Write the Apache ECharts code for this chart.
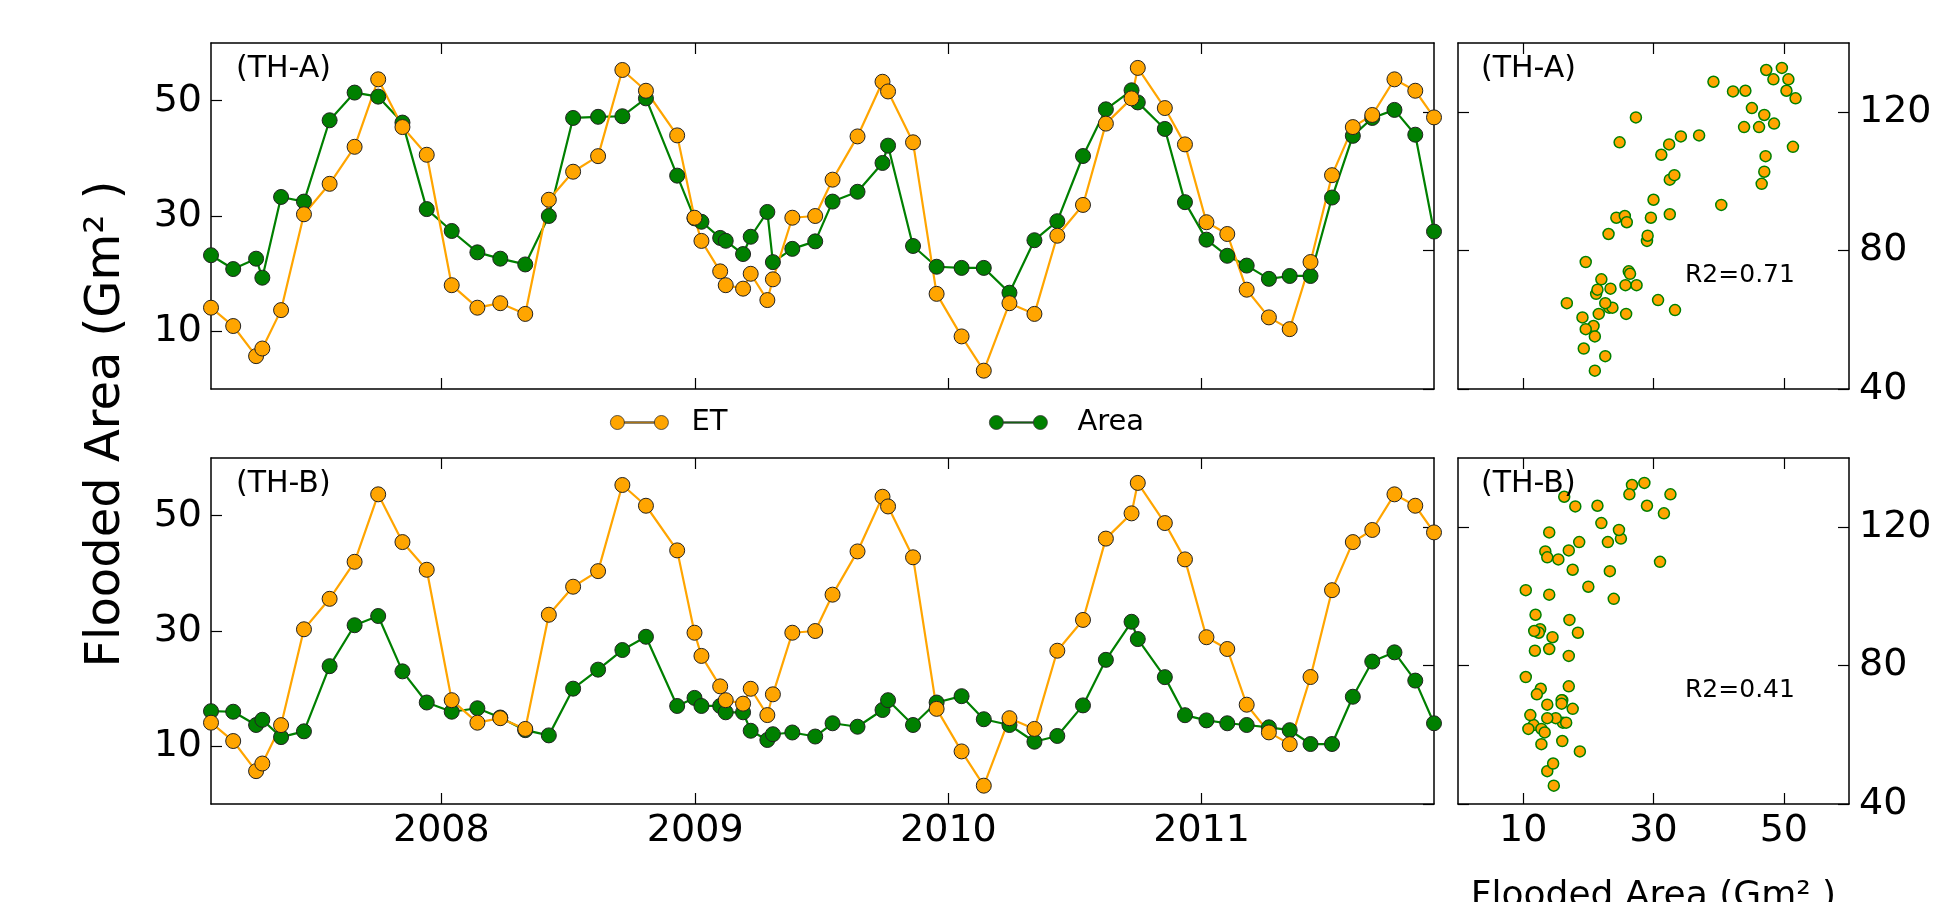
<!DOCTYPE html>
<html>
<head>
<meta charset="utf-8">
<title>Flooded Area vs ET</title>
<script src="https://cdn.jsdelivr.net/npm/echarts@6/dist/echarts.min.js"></script>
<style>
  html, body { margin: 0; padding: 0; background: #fff; }
  #chart { width: 1947px; height: 902px; }
</style>
</head>
<body>
<div id="chart"></div>
<script>
// Observation dates (shared by both sites)
const dates = [
    '2007-02-03', '2007-03-07', '2007-04-09', '2007-04-18', '2007-05-15', '2007-06-17',
    '2007-07-24', '2007-08-29', '2007-10-02', '2007-11-06', '2007-12-11', '2008-01-16',
    '2008-02-22', '2008-03-26', '2008-05-01', '2008-06-04', '2008-07-09', '2008-08-14',
    '2008-09-18', '2008-10-22', '2008-12-06', '2008-12-31', '2009-01-10', '2009-02-06',
    '2009-02-14', '2009-03-11', '2009-03-22', '2009-04-15', '2009-04-23', '2009-05-21',
    '2009-06-23', '2009-07-18', '2009-08-23', '2009-09-28', '2009-10-06', '2009-11-11',
    '2009-12-15', '2010-01-20', '2010-02-21', '2010-03-30', '2010-05-05', '2010-06-07',
    '2010-07-14', '2010-08-16', '2010-09-22', '2010-10-01', '2010-11-09', '2010-12-08',
    '2011-01-08', '2011-02-07', '2011-03-07', '2011-04-08', '2011-05-08', '2011-06-07',
    '2011-07-08', '2011-08-07', '2011-09-04', '2011-10-06', '2011-11-05', '2011-12-02'
];

// ET (twin axis, 40 - 140)
const etValues = [
    63.5, 58.2, 49.5, 51.7, 62.8, 90.5, 99.3, 110.0, 129.5, 115.7, 107.7, 70.0,
    63.5, 64.8, 61.7, 94.7, 102.8, 107.3, 132.2, 126.2, 113.3, 89.5, 82.8, 74.0,
    70.0, 69.0, 73.3, 65.7, 71.7, 89.5, 90.0, 100.5, 113.0, 128.8, 126.0, 111.3,
    67.5, 55.2, 45.3, 64.8, 61.7, 84.3, 93.2, 116.7, 124.0, 132.8, 121.2, 110.7,
    88.2, 84.8, 68.7, 60.7, 57.3, 76.7, 101.8, 115.7, 119.2, 129.5, 126.2, 118.5
];

// Flooded area (Gm2) for TH-A
const areaA = [
    23.2, 20.8, 22.6, 19.3, 33.3, 32.5, 46.6, 51.4, 50.7, 46.2, 31.2, 27.4,
    23.7, 22.6, 21.6, 30.0, 47.0, 47.2, 47.3, 50.4, 37.0, 29.6, 29.0, 26.2,
    25.7, 23.4, 26.4, 30.7, 22.0, 24.3, 25.6, 32.5, 34.2, 39.2, 42.2, 24.8,
    21.2, 21.0, 21.0, 16.7, 25.8, 29.1, 40.4, 48.5, 51.8, 49.7, 45.1, 32.4,
    25.9, 23.1, 21.4, 19.1, 19.6, 19.6, 33.2, 43.9, 47.0, 48.4, 44.1, 27.3
];

// Flooded area (Gm2) for TH-B
const areaB = [
    16.1, 16.0, 13.7, 14.6, 11.6, 12.6, 23.9, 31.0, 32.6, 23.0, 17.6, 16.0,
    16.6, 15.0, 12.8, 11.9, 20.0, 23.3, 26.7, 29.0, 17.0, 18.4, 17.0, 17.0,
    15.9, 15.9, 12.7, 11.1, 12.1, 12.4, 11.7, 14.0, 13.4, 16.3, 18.0, 13.7,
    17.6, 18.7, 14.7, 13.7, 10.8, 11.8, 17.1, 25.0, 31.6, 28.6, 22.0, 15.4,
    14.5, 14.0, 13.7, 13.3, 12.8, 10.4, 10.4, 18.6, 24.7, 26.3, 21.4, 14.0
];

// tick labels
const yearTicks = [2008, 2009, 2010, 2011];
const areaTicks = [10, 30, 50];
const etTicks = [40, 80, 120];
const r2Labels = ['R2=0.71', 'R2=0.41'];
const panelLabels = ['(TH-A)', '(TH-B)'];

const FONT = 'DejaVu Sans';
const ORANGE = '#FFA500';
const GREEN = '#008000';

// dates -> local timestamps, the x axis is a plain value axis in ms
function toTime(s) {
    const p = s.split('-').map(Number);
    return new Date(p[0], p[1] - 1, p[2]).getTime();
}
const dateValues = dates.map(toTime);
const yearValues = yearTicks.map(y => new Date(y, 0, 1).getTime());

// shared line/tick style
const frameLine = { show: true, onZero: false, lineStyle: { color: '#000', width: 1.5 } };
function ticks(values) {
    return { show: true, inside: true, length: 11, customValues: values, lineStyle: { color: '#000', width: 1.2 } };
}

function timeAxis(gridIndex, position, showLabel) {
    return {
        type: 'value', gridIndex: gridIndex, position: position,
        min: dateValues[0], max: dateValues[dateValues.length - 1],
        axisLine: frameLine,
        axisTick: ticks(yearValues),
        axisLabel: {
            show: showLabel, customValues: yearValues, margin: 8,
            formatter: v => String(new Date(v).getFullYear()),
            fontSize: 38, color: '#000', fontFamily: FONT
        },
        splitLine: { show: false }
    };
}

function valueAxis(gridIndex, position, min, max, tickVals, showLabel, margin) {
    return {
        type: 'value', gridIndex: gridIndex, position: position,
        min: min, max: max,
        axisLine: frameLine,
        axisTick: ticks(tickVals),
        axisLabel: {
            show: showLabel, customValues: tickVals, margin: margin,
            fontSize: 38, color: '#000', fontFamily: FONT
        },
        splitLine: { show: false }
    };
}

function lineSeries(name, values, xIdx, yIdx, color) {
    return {
        name: name, type: 'line', xAxisIndex: xIdx, yAxisIndex: yIdx,
        data: dateValues.map((t, i) => [t, values[i]]),
        symbol: 'circle', symbolSize: 15, showSymbol: true,
        lineStyle: { color: color, width: 2.2 },
        itemStyle: { color: color, borderColor: '#222', borderWidth: 1 }
    };
}

function scatterSeries(name, area, xIdx, yIdx) {
    return {
        name: name, type: 'scatter', xAxisIndex: xIdx, yAxisIndex: yIdx,
        data: area.map((a, i) => [a, etValues[i]]),
        symbol: 'circle', symbolSize: 11,
        itemStyle: { color: ORANGE, borderColor: GREEN, borderWidth: 1.5, opacity: 1 }
    };
}

function panelTitle(text, left, top, size) {
    return {
        text: text, left: left, top: top, padding: 0,
        textStyle: { fontSize: size, fontWeight: 'normal', color: '#000', fontFamily: FONT }
    };
}

// legend icon: marker - line - marker
const legendIcon = 'path://M0,7 A7,7 0 1,1 14,7 A7,7 0 1,1 0,7 Z M14,6.3 L44,6.3 L44,7.7 L14,7.7 Z M44,7 A7,7 0 1,1 58,7 A7,7 0 1,1 44,7 Z';
function legendItem(name, left, gap) {
    return {
        data: [name], left: left, top: 408, orient: 'horizontal', padding: 0,
        icon: legendIcon, itemWidth: 58, itemHeight: 14,
        itemStyle: { borderColor: '#333', borderWidth: 0.8 },
        textStyle: { fontSize: 29, color: '#000', fontFamily: FONT, padding: [0, 0, 0, gap] },
        selectedMode: false
    };
}

const chart = echarts.init(document.getElementById('chart'), null, { renderer: 'canvas' });
chart.setOption({
    animation: false,
    backgroundColor: '#fff',
    grid: [
        { left: 211, top: 43, width: 1223, height: 346, outerBoundsMode: 'none' },
        { left: 211, top: 458, width: 1223, height: 346, outerBoundsMode: 'none' },
        { left: 1458, top: 43, width: 391, height: 346, outerBoundsMode: 'none' },
        { left: 1458, top: 458, width: 391, height: 346, outerBoundsMode: 'none' }
    ],
    xAxis: [
        timeAxis(0, 'bottom', false),
        timeAxis(0, 'top', false),
        timeAxis(1, 'bottom', true),
        timeAxis(1, 'top', false),
        valueAxis(2, 'bottom', 0, 60, areaTicks, false, 8),
        valueAxis(2, 'top', 0, 60, areaTicks, false, 8),
        Object.assign(valueAxis(3, 'bottom', 0, 60, areaTicks, true, 8), {
            name: 'Flooded Area (Gm² )', nameLocation: 'middle', nameGap: 75,
            nameTextStyle: { fontSize: 36, color: '#000', fontFamily: FONT }
        }),
        valueAxis(3, 'top', 0, 60, areaTicks, false, 8)
    ],
    yAxis: [
        valueAxis(0, 'left', 0, 60, areaTicks, true, 9),
        valueAxis(0, 'right', 40, 140, etTicks, false, 9),
        valueAxis(1, 'left', 0, 60, areaTicks, true, 9),
        valueAxis(1, 'right', 40, 140, etTicks, false, 9),
        valueAxis(2, 'right', 40, 140, etTicks, true, 10),
        valueAxis(2, 'left', 40, 140, etTicks, false, 10),
        valueAxis(3, 'right', 40, 140, etTicks, true, 10),
        valueAxis(3, 'left', 40, 140, etTicks, false, 10)
    ],
    legend: [legendItem('ET', 610, 18), legendItem('Area', 989, 25)],
    title: [
        panelTitle(panelLabels[0], 236, 54, 30),
        panelTitle(panelLabels[0], 1481, 54, 30),
        panelTitle(panelLabels[1], 236, 469, 30),
        panelTitle(panelLabels[1], 1481, 469, 30),
        panelTitle(r2Labels[0], 1685, 263, 25),
        panelTitle(r2Labels[1], 1685, 678, 25)
    ],
    graphic: [{
        type: 'text', x: 107, y: 424, rotation: Math.PI / 2,
        style: {
            text: 'Flooded Area (Gm² )', x: 0, y: 0,
            align: 'center', verticalAlign: 'middle',
            textAlign: 'center', textVerticalAlign: 'middle',
            font: '48px "DejaVu Sans"', fill: '#000'
        }
    }],
    series: [
        // area first so ET (twin axis) sits on top
        lineSeries('Area', areaA, 0, 0, GREEN),
        lineSeries('ET', etValues, 0, 1, ORANGE),
        lineSeries('Area', areaB, 2, 2, GREEN),
        lineSeries('ET', etValues, 2, 3, ORANGE),
        scatterSeries('scatterA', areaA, 4, 4),
        scatterSeries('scatterB', areaB, 6, 6)
    ]
});
</script>
</body>
</html>
